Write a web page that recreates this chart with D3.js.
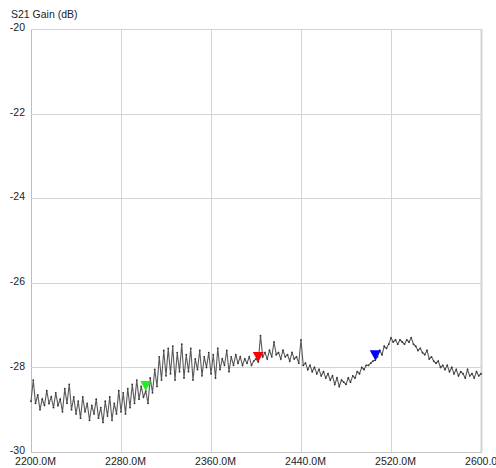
<!DOCTYPE html>
<html>
<head>
<meta charset="utf-8">
<script src="https://cdn.jsdelivr.net/npm/d3@7"></script>
<style>
  html, body { margin: 0; padding: 0; background: #fff; }
  svg { display: block; }
  text { font-family: "Liberation Sans", Arial, sans-serif; font-size: 10.5px; fill: #222; }
</style>
</head>
<body>
<svg id="chart" width="496" height="468"></svg>
<script>
// Sweep: 2200 MHz to 2600 MHz in 2 MHz steps
const freqStart = 2200;
const freqStep = 2;

// S21 gain (dB) for each sweep point
const gainDb = [
  -28.80, -28.30, -28.85, -28.65, -29.00, -28.75, -28.90, -28.55, -28.85, -28.70,
  -28.95, -28.60, -28.90, -28.75, -29.05, -28.50, -28.85, -28.40, -29.00, -28.70,
  -29.10, -28.80, -29.20, -28.70, -29.05, -28.85, -29.25, -28.90, -29.10, -28.75,
  -29.20, -28.95, -29.30, -28.80, -29.15, -28.70, -29.25, -28.85, -29.10, -28.55,
  -29.05, -28.60, -29.10, -28.50, -28.95, -28.40, -28.85, -28.30, -28.75, -28.45,
  -28.70, -28.56, -28.85, -28.25, -28.60, -28.05, -28.45, -27.75, -28.30, -27.60,
  -28.20, -27.55, -28.15, -27.50, -28.30, -27.65, -28.10, -27.45, -28.25, -27.70,
  -28.10, -27.55, -28.30, -27.80, -28.05, -27.60, -28.20, -27.75, -28.00, -27.65,
  -28.15, -27.70, -28.25, -27.55, -28.05, -27.80, -27.95, -27.60, -28.10, -27.75,
  -27.95, -27.70, -27.90, -27.75, -27.95, -27.80, -27.90, -27.75, -27.95, -27.85,
  -27.80, -27.87, -27.25, -27.75, -27.65, -27.80, -27.60, -27.75, -27.40, -27.70,
  -27.65, -27.80, -27.60, -27.75, -27.70, -27.85, -27.65, -27.80, -27.75, -27.90,
  -27.35, -27.95, -27.90, -28.05, -27.95, -28.10, -28.00, -28.15, -28.05, -28.20,
  -28.10, -28.25, -28.15, -28.30, -28.20, -28.40, -28.25, -28.45, -28.30, -28.35,
  -28.40, -28.25, -28.35, -28.20, -28.25, -28.10, -28.15, -28.00, -28.05, -27.95,
  -27.95, -27.90, -27.85, -27.83, -27.75, -27.60, -27.70, -27.50, -27.55, -27.45,
  -27.30, -27.40, -27.35, -27.45, -27.35, -27.40, -27.45, -27.35, -27.40, -27.30,
  -27.45, -27.50, -27.60, -27.55, -27.65, -27.70, -27.60, -27.80, -27.75, -27.85,
  -27.90, -27.85, -28.00, -27.95, -28.05, -27.95, -28.10, -28.00, -28.15, -28.05,
  -28.20, -28.10, -28.15, -28.25, -28.05, -28.20, -28.15, -28.25, -28.10, -28.20,
  -28.15
];

// Marker frequencies (MHz) and colours
const markerFreqs = [2302, 2402, 2506];
const markerColors = ["#22ee22", "#ff0000", "#0000ff"];

// Axis ticks
const xTicks = [2200, 2280, 2360, 2440, 2520, 2600];
const yTicks = [-20, -22, -24, -26, -28, -30];
const yTitle = "S21 Gain (dB)";

const points = gainDb.map((g, i) => ({ f: freqStart + i * freqStep, g }));

const svg = d3.select("#chart");
const plotLeft = 31, plotRight = 481, plotTop = 29, plotBottom = 452;

const x = d3.scaleLinear().domain([2200, 2600]).range([plotLeft, plotRight]);
const y = d3.scaleLinear().domain([-30, -20]).range([plotBottom, plotTop]);

// Grid lines
const grid = svg.append("g");
grid.selectAll("line.v").data(xTicks).join("line")
  .attr("x1", d => x(d) + 0.5).attr("x2", d => x(d) + 0.5)
  .attr("y1", plotTop).attr("y2", plotBottom)
  .attr("stroke", d => d === 2200 ? "#bdbdbd" : "#d4d4d4").attr("stroke-width", d => d === 2600 ? 2 : 1);
grid.selectAll("line.h").data(yTicks).join("line")
  .attr("x1", plotLeft).attr("x2", plotRight + 1)
  .attr("y1", d => Math.round(y(d)) + 0.5).attr("y2", d => Math.round(y(d)) + 0.5)
  .attr("stroke", d => d === -30 ? "#c4c4c4" : "#d4d4d4");

// Tick labels
svg.append("g").selectAll("text").data(yTicks).join("text")
  .attr("x", 25).attr("y", d => y(d) - 1.5).attr("dy", "0.35em")
  .attr("text-anchor", "end").text(d => d);
svg.append("g").selectAll("text").data(xTicks).join("text")
  .attr("x", d => x(d) + 4.5).attr("y", 465)
  .attr("text-anchor", "middle").text(d => d.toFixed(1) + "M");

svg.append("text").attr("x", 11).attr("y", 18).text(yTitle);

// Trace
const line = d3.line().x(d => x(d.f)).y(d => y(d.g));
svg.append("path").datum(points)
  .attr("d", line).attr("fill", "none")
  .attr("stroke", "#5a5a5a").attr("stroke-width", 1.1);
svg.append("g").selectAll("circle").data(points).join("circle")
  .attr("cx", d => x(d.f)).attr("cy", d => y(d.g)).attr("r", 0.9)
  .attr("fill", "#333");

// Markers: downward triangles with tip on the trace
const markers = markerFreqs.map((f, i) => {
  const p = points.find(d => d.f === f);
  return { f, g: p.g, color: markerColors[i] };
});
svg.append("g").selectAll("path").data(markers).join("path")
  .attr("d", d => {
    const cx = x(d.f), cy = y(d.g);
    return `M${cx - 5.5},${cy - 10}L${cx + 5.5},${cy - 10}L${cx},${cy}Z`;
  })
  .attr("fill", d => d.color);
</script>
</body>
</html>
